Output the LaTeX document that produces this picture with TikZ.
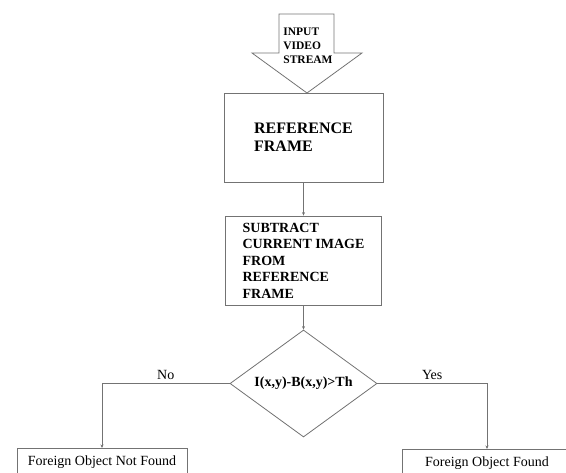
\documentclass[tikz,border=0pt]{standalone}
\usepackage{fontspec}
\setmainfont{Liberation Serif}
\usetikzlibrary{shapes.geometric,arrows.meta}
\definecolor{linegray}{rgb}{0.45,0.45,0.45}

\begin{document}
\begin{tikzpicture}[x=1pt, y=-1pt, line/.style = {draw=linegray, line width=0.8pt}, flow/.style = {line, -{Stealth[length=3.5pt, width=3pt]}}, block/.style = {shape=rectangle, line, align=left, fill=white, font=\fontsize{14}{16.5}\selectfont\bfseries, minimum width=156pt, minimum height=89pt}, decision/.style = {shape=diamond, line, inner sep=0pt, aspect=1.37, minimum width=147pt, minimum height=107pt, font=\fontsize{14}{16}\selectfont\bfseries}, result/.style = {shape=rectangle, line, minimum width=170pt, minimum height=28pt, font=\fontsize{14}{16}\selectfont}]
	\useasboundingbox (0,0) rectangle (566,473);
	\draw[line] (279,14) -- (334,14) -- (334,53) -- (362,53) -- (307,93) -- (252,53) -- (279,53) -- cycle;
	\node[align=left, font=\fontsize{11.5}{14}\selectfont\bfseries] (input) at (308,46) {INPUT\\VIDEO\\STREAM};
	\node[block, minimum width=159pt, font=\fontsize{16}{18}\selectfont\bfseries] (reference) at (303.5,137.5) {REFERENCE\\FRAME};
	\node[block] (subtract) at (303.5,260.5) {SUBTRACT\\CURRENT IMAGE\\FROM\\REFERENCE\\FRAME};
	\node[decision] (check) at (303.5,383.5) {I(x,y)-B(x,y)>Th};
	\node[result, anchor=north] (notfound) at (102,448) {Foreign Object Not Found};
	\node[result, anchor=north] (found) at (487,449) {Foreign Object Found};
	\draw[flow] (reference) -- (subtract);
	\draw[flow] (subtract) -- (check);
	\draw[flow] (check.west) -| (notfound.north) node[pos=0.25, above, font=\fontsize{14}{16}\selectfont] {No};
	\draw[flow] (check.east) -| (found.north) node[pos=0.25, above, font=\fontsize{14}{16}\selectfont] {Yes};
\end{tikzpicture}
\end{document}
